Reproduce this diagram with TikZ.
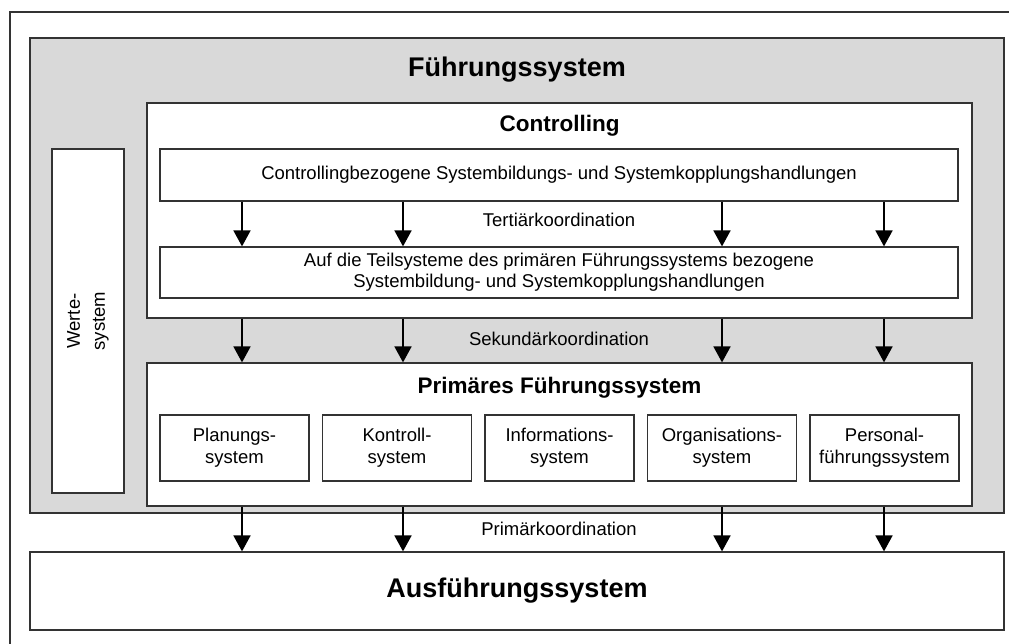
\documentclass[tikz,border=0pt]{standalone}
\usepackage{fontspec}
\setmainfont{Liberation Sans}
\usetikzlibrary{arrows.meta}
\definecolor{fsgray}{HTML}{D9D9D9}
\definecolor{edge}{HTML}{333333}
\begin{document}
\begin{tikzpicture}[x=1pt,y=-1pt,
  box/.style={draw=edge, line width=1.2pt, fill=white, inner sep=0pt, rectangle},
  arr/.style={-{Triangle[width=17pt,length=16pt]}, line width=1.8pt, black},
  lbl/.style={font=\fontsize{18.5}{22}\selectfont, align=center, inner sep=0pt},
  ttl/.style={font=\fontsize{22.5}{26}\selectfont\bfseries, inner sep=0pt},
  big/.style={font=\fontsize{27}{32}\selectfont\bfseries, inner sep=0pt}]
\useasboundingbox (0,0) rectangle (1009,644);
\fill[white] (0,0) rectangle (1009,644);
\draw[line width=1.2pt, edge] (10,644) -- (10,12) -- (1009,12);
% Fuehrungssystem
\node[box, fill=fsgray, minimum width=974pt, minimum height=475pt] (fs) at (517,275.5) {};
\node[big] (fst) at (517,70) {Führungssystem};
% Wertesystem
\node[box, minimum width=72pt, minimum height=344pt] (ws) at (88,321) {};
\node[lbl, rotate=90, font=\fontsize{18.5}{25}\selectfont] (wst) at (ws.center) {Werte-\\system};
% Controlling
\node[box, minimum width=825pt, minimum height=215pt] (ctrl) at (559.5,210.5) {};
\node[ttl] (ctrlt) at (559.5,126) {Controlling};
\node[box, minimum width=798pt, minimum height=52pt] (cb) at (559,175) {};
\node[lbl] (cbt) at (cb.center) {Controllingbezogene Systembildungs- und Systemkopplungshandlungen};
\node[box, minimum width=798pt, minimum height=51pt] (auf) at (559,272.5) {};
\node[lbl, font=\fontsize{18.5}{21}\selectfont] (auft) at (auf.center) {Auf die Teilsysteme des primären Führungssystems bezogene\\Systembildung- und Systemkopplungshandlungen};
% Primaeres Fuehrungssystem
\node[box, minimum width=825pt, minimum height=143pt] (prim) at (559.5,434.5) {};
\node[ttl] (primt) at (559.5,388) {Primäres Führungssystem};
\node[box, minimum width=149pt, minimum height=66pt] (s1) at (234.5,448) {};
\node[box, minimum width=149pt, minimum height=66pt] (s2) at (397,448) {};
\node[box, minimum width=149pt, minimum height=66pt] (s3) at (559.5,448) {};
\node[box, minimum width=149pt, minimum height=66pt] (s4) at (722,448) {};
\node[box, minimum width=149pt, minimum height=66pt] (s5) at (884.5,448) {};
\node[lbl] at (s1.center) {Planungs-\\system};
\node[lbl] at (s2.center) {Kontroll-\\system};
\node[lbl] at (s3.center) {Informations-\\system};
\node[lbl] at (s4.center) {Organisations-\\system};
\node[lbl] at (s5.center) {Personal-\\führungssystem};
% Ausfuehrungssystem
\node[box, minimum width=974pt, minimum height=78pt] (aus) at (517,591) {};
\node[big] (aust) at (aus.center) {Ausführungssystem};
% coordination labels
\node[lbl] (tk) at (559,220) {Tertiärkoordination};
\node[lbl] (sk) at (559,339) {Sekundärkoordination};
\node[lbl] (pk) at (559,529) {Primärkoordination};
% arrows
\coordinate (k1) at (242,0);
\coordinate (k2) at (403,0);
\coordinate (k3) at (722,0);
\coordinate (k4) at (884,0);
\foreach \k in {k1,k2,k3,k4} {
  \draw[arr] (cb.south -| \k) -- (auf.north -| \k);
  \draw[arr] (ctrl.south -| \k) -- (prim.north -| \k);
  \draw[arr] (prim.south -| \k) -- (aus.north -| \k);
}
\end{tikzpicture}
\end{document}
